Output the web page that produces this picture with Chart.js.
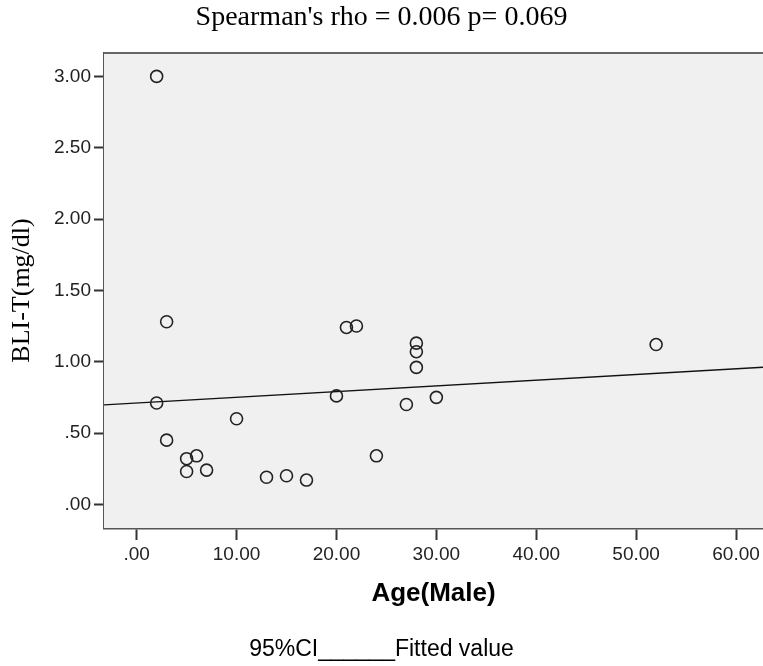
<!DOCTYPE html>
<html>
<head>
<meta charset="utf-8">
<script src="https://cdn.jsdelivr.net/npm/chart.js@4"></script>
<style>
  html, body { margin: 0; padding: 0; background: #fff; overflow: hidden; }
  #wrap { width: 763px; height: 666px; position: relative; }
</style>
</head>
<body>
<div id="wrap"><canvas id="scatter" width="763" height="666"></canvas></div>
<script>
// data
const ageMale = [2, 3, 2, 10, 3, 5, 6, 5, 7, 13, 15, 17, 20, 21, 22, 24, 27, 28, 28, 28, 30, 52];
const bliT = [3.00, 1.28, 0.71, 0.60, 0.45, 0.32, 0.34, 0.23, 0.24, 0.19, 0.20, 0.17, 0.76, 1.24, 1.25, 0.34, 0.70, 1.13, 1.07, 0.96, 0.75, 1.12];
const fitAge = [-3.27, 62.7];
const fitBli = [0.697, 0.961];
const xTicks = [0, 10, 20, 30, 40, 50, 60];
const yTicks = [0, 0.5, 1, 1.5, 2, 2.5, 3];

const fmt = (v) => v.toFixed(2).replace(/^0/, "");

// plot background + top frame line
const frame = {
  id: "frame",
  beforeDatasetsDraw(chart) {
    const { ctx, chartArea: a } = chart;
    ctx.save();
    ctx.fillStyle = "#f0f0f0";
    ctx.fillRect(a.left, a.top, a.right - a.left, a.bottom - a.top);
    ctx.strokeStyle = "#666";
    ctx.lineWidth = 2;
    ctx.beginPath();
    ctx.moveTo(a.left, a.top);
    ctx.lineTo(a.right, a.top);
    ctx.stroke();
    ctx.restore();
  },
};

new Chart(document.getElementById("scatter"), {
  type: "scatter",
  data: {
    datasets: [
      {
        label: "BLI-T",
        data: ageMale.map((x, i) => ({ x: x, y: bliT[i] })),
        pointStyle: "circle",
        pointRadius: 6,
        pointBorderWidth: 1.6,
        pointBorderColor: "#222",
        pointBackgroundColor: "rgba(0,0,0,0)",
      },
      {
        type: "line",
        label: "Fitted value",
        data: fitAge.map((x, i) => ({ x: x, y: fitBli[i] })),
        borderColor: "#111",
        borderWidth: 1.3,
        pointRadius: 0,
        fill: false,
      },
    ],
  },
  options: {
    responsive: false,
    animation: false,
    devicePixelRatio: 1,
    layout: { padding: 0, autoPadding: false },
    plugins: {
      legend: { display: false },
      tooltip: { enabled: false },
      title: {
        display: true,
        text: "Spearman's rho = 0.006 p= 0.069",
        color: "#000",
        font: { family: "Liberation Serif", size: 28, weight: "normal", lineHeight: 1.2 },
        padding: { top: 1, bottom: 18.4 },
      },
      subtitle: {
        display: true,
        position: "bottom",
        text: "95%CI______Fitted value",
        color: "#000",
        font: { family: "Liberation Sans", size: 23, lineHeight: 1.2 },
        padding: { top: 16.2, bottom: 2.2 },
      },
    },
    scales: {
      x: {
        type: "linear",
        min: fitAge[0],
        max: fitAge[1],
        afterBuildTicks: (s) => { s.ticks = xTicks.map((v) => ({ value: v })); },
        afterFit: (s) => {
          s.height = 92;
          s.paddingLeft = 0;
          s.paddingRight = 0;
        },
        grid: { drawOnChartArea: false, drawTicks: true, tickLength: 12, tickColor: "#333", tickWidth: 2 },
        border: { display: true, color: "#555", width: 2.5 },
        ticks: {
          color: "#222",
          padding: 3,
          autoSkip: false,
          maxRotation: 0,
          font: { family: "Liberation Sans", size: 19 },
          callback: (v) => fmt(v),
        },
        title: {
          display: true,
          text: "Age(Male)",
          color: "#000",
          font: { family: "Liberation Sans", size: 26, weight: "bold", lineHeight: 1.2 },
          padding: { top: 2, bottom: 10.4 },
        },
      },
      y: {
        type: "linear",
        min: -0.166,
        max: 3.164,
        afterBuildTicks: (s) => { s.ticks = yTicks.map((v) => ({ value: v })); },
        afterFit: (s) => {
          s.width = 104;
          s.paddingTop = 0;
          s.paddingBottom = 0;
        },
        grid: { drawOnChartArea: false, drawTicks: true, tickLength: 10, tickColor: "#333", tickWidth: 2 },
        border: { display: true, color: "#555", width: 2.5 },
        ticks: {
          color: "#222",
          padding: 3,
          autoSkip: false,
          font: { family: "Liberation Sans", size: 19 },
          callback: (v) => fmt(v),
        },
        title: {
          display: true,
          text: "BLI-T(mg/dl)",
          color: "#000",
          font: { family: "Liberation Serif", size: 26, weight: "normal", lineHeight: 1.2 },
          padding: { top: 7, bottom: 0 },
        },
      },
    },
  },
  plugins: [frame],
});
</script>
</body>
</html>
